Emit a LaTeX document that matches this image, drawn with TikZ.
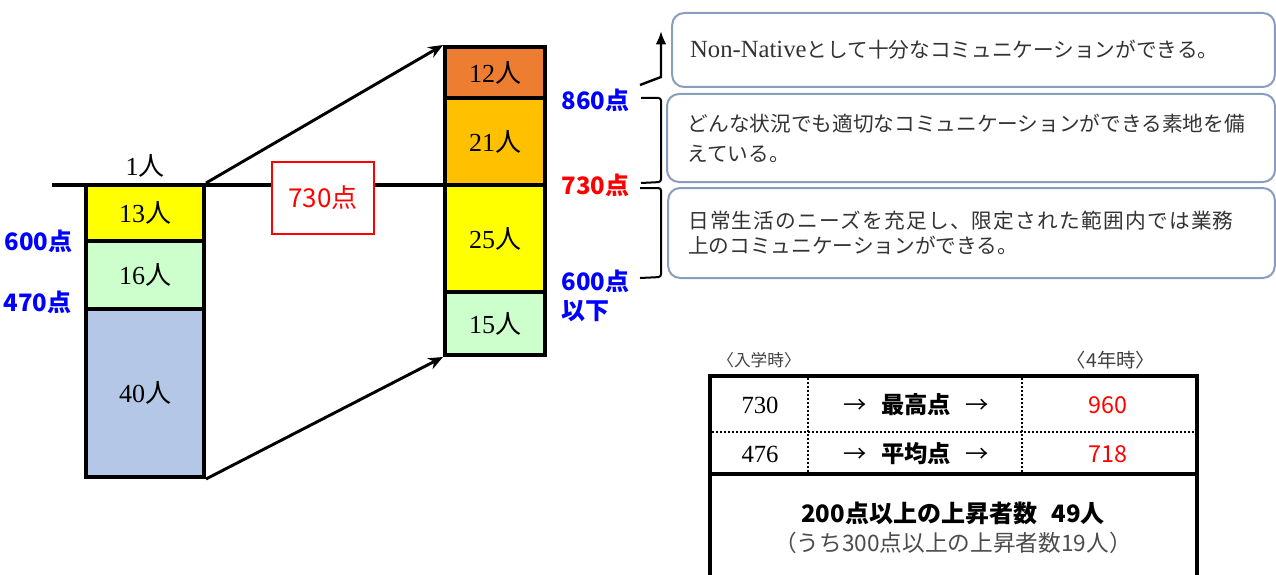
\documentclass[tikz,border=0pt]{standalone}
\usepackage{fontspec}
\setmainfont{Liberation Serif}
\newfontfamily\jp{Noto Sans CJK JP}
\usepackage{tikz}
\usetikzlibrary{arrows.meta}
\definecolor{cellorange}{RGB}{237,125,49}
\definecolor{cellgold}{RGB}{255,192,0}
\definecolor{cellyellow}{RGB}{255,255,0}
\definecolor{cellmint}{RGB}{204,255,204}
\definecolor{cellsteel}{RGB}{180,199,231}
\definecolor{frameblue}{RGB}{137,158,190}
\tikzset{basic/.style={draw,line width=3pt,inner sep=0pt,
                       font=\fontsize{19.5}{23}\selectfont}}
\tikzset{level/.style={text=blue,font=\jp\bfseries\fontsize{18}{22}\selectfont}}

\begin{document}
\begin{tikzpicture}[x=0.75pt,y=-0.75pt]
  \useasboundingbox (0,0) rectangle (1276,574);

  \tikzstyle{left_cell}=[basic,minimum width=88.5pt];
  \tikzstyle{right_cell}=[basic,minimum width=75pt];
  \tikzstyle{comment}=[draw=frameblue,line width=1.5pt,rounded corners=9pt,text width=425pt,align=left,text=black!80,font=\jp\fontsize{15.5}{22.5}\selectfont];
  \tikzstyle{table_text}=[font=\fontsize{18.5}{22}\selectfont];
  \tikzstyle{table_mid}=[font=\jp\bfseries\fontsize{17.5}{21}\selectfont];
  \tikzstyle{table_red}=[text=red,font=\jp\fontsize{17.5}{21}\selectfont];

  % before: left column
  \node (one) at (145,166) [font=\fontsize{19.5}{23}\selectfont]{1{\jp 人}};
  \node (cell_13) at (145,213) [left_cell,fill=cellyellow,minimum height=42pt]{13{\jp 人}};
  \node (cell_16) at (145,275) [left_cell,fill=cellmint,minimum height=51pt]{16{\jp 人}};
  \node (cell_40) at (145,393) [left_cell,fill=cellsteel,minimum height=126pt]{40{\jp 人}};

  \node (left_600) at (77,241) [level,anchor=east]{600点};
  \node (left_470) at (76,302) [level,anchor=east]{470点};

  % after: right column
  \node (cell_12) at (495,72.75) [right_cell,fill=cellorange,minimum height=38.6pt]{12{\jp 人}};
  \node (cell_21) at (495,141.75) [right_cell,fill=cellgold,minimum height=64.9pt]{21{\jp 人}};
  \node (cell_25) at (495,238.5) [right_cell,fill=cellyellow,minimum height=80.25pt]{25{\jp 人}};
  \node (cell_15) at (495,323.5) [right_cell,fill=cellmint,minimum height=47.25pt]{15{\jp 人}};

  \node (right_860) at (557,100) [level,anchor=west]{860点};
  \node (right_730) at (557,185) [level,anchor=west,text=red]{730点};
  \node (right_600) at (557,281) [level,anchor=west]{600点};
  \node (right_low) at (557,311) [level,anchor=west]{以下};

  % 730 line
  \coordinate (line_start) at (52,185);
  \draw[line width=3pt] (line_start) -- (line_start -| cell_25.west);
  \node (score) at (323,198) [draw=red,line width=1.9pt,fill=white,minimum width=76.5pt,minimum height=54pt,text=red,font=\jp\fontsize{19.5}{23}\selectfont]{730点};

  \draw[-{Stealth[length=11pt,width=9pt]},line width=2.2pt] (cell_13.north east) -- (cell_12.north west);
  \draw[-{Stealth[length=11pt,width=9pt]},line width=2.2pt] (cell_40.south east) -- (cell_15.south west);

  % brackets
  \coordinate (up_start) at (640,85);
  \coordinate (up_end) at (661,31);
  \draw[-{Latex[length=10pt,width=8pt]},line width=1.8pt] (up_start) -- ++(21,-8) -- (up_end);
  \draw[line width=1.5pt,rounded corners=2pt] (641,98) -- (661,98) -- (661,182) -- (641,183);
  \draw[line width=1.5pt,rounded corners=2pt] (640,188) -- (661,188) -- (661,277) -- (640,278);

  \node (can_top) at (973.5,50) [comment,minimum width=452pt,minimum height=55.5pt]{{\rmfamily\fontsize{18.5}{22}\selectfont Non-Native}として十分なコミュニケーションができる。};
  \node (can_mid) at (971,138) [comment,minimum width=456pt,minimum height=66pt]{どんな状況でも適切なコミュニケーションができる素地を備\\えている。};
  \node (can_low) at (971.5,233) [comment,minimum width=455pt,minimum height=67.5pt,font=\jp\fontsize{15.5}{18.5}\selectfont]{{\addfontfeature{LetterSpace=6}日常生活のニーズを充足し、限定された範囲内では業務}\\上のコミュニケーションができる。};

  % table
  \coordinate (A) at (710,580);
  \coordinate (B) at (710,376);
  \coordinate (C) at (1197,376);
  \coordinate (D) at (1197,580);
  \draw[line width=3pt] (A)--(B)--(C)--(D);
  \draw[line width=3pt] (710,474) -- (1197,474);
  \draw[line width=2pt,dash pattern=on 1.5pt off 1.5pt] (712,432) -- (1195,432);
  \draw[line width=2pt,dash pattern=on 1.5pt off 1.5pt] (808,378) -- (808,472);
  \draw[line width=2pt,dash pattern=on 1.5pt off 1.5pt] (1022,378) -- (1022,472);

  \node (entry) at (759,360) [text=black!75,font=\jp\fontsize{12.5}{15}\selectfont]{〈入学時〉};
  \node (fourth) at (1111,360) [text=black!75,font=\jp\fontsize{14.5}{17}\selectfont]{〈4年時〉};

  \node (max_in) at (760,405) [table_text]{730};
  \node (max_mid) at (916,405) [table_mid]{{\mdseries →}\hspace{0.6em}最高点\hspace{0.6em}{\mdseries →}};
  \node (max_out) at (1108,405) [table_red]{960};
  \node (avg_in) at (760,454) [table_text]{476};
  \node (avg_mid) at (916,454) [table_mid]{{\mdseries →}\hspace{0.6em}平均点\hspace{0.6em}{\mdseries →}};
  \node (avg_out) at (1108,454) [table_red]{718};

  \node (rise_main) at (953,513) [font=\jp\bfseries\fontsize{18}{22}\selectfont]{200点以上の上昇者数\hspace{0.6em}49人};
  \node (rise_sub) at (953,543) [text=black!70,font=\jp\fontsize{17}{20}\selectfont]{（うち300点以上の上昇者数19人）};
\end{tikzpicture}
\end{document}
